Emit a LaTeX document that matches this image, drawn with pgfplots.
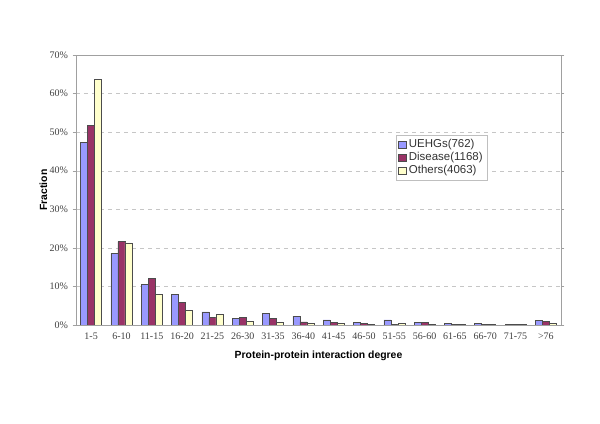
\documentclass[border=0pt]{standalone}
\usepackage{fontspec}
\setmainfont{Liberation Serif}
\setsansfont{Liberation Sans}
\usepackage{pgfplots}
\pgfplotsset{compat=1.18}
\definecolor{uehg}{RGB}{153,153,255}
\definecolor{disease}{RGB}{153,51,102}
\definecolor{others}{RGB}{255,255,204}
\definecolor{frame}{RGB}{160,160,160}

\begin{document}
\begin{tikzpicture}[x=0.75pt,y=0.75pt]
\useasboundingbox (-76,-99) rectangle (524,325);
\begin{axis}[
  at={(0,0)}, anchor=south west,
  scale only axis, width=363.75pt, height=202.5pt,
  ybar=0pt, bar width=5.25pt,
  xmin=-0.5, xmax=15.5, ymin=0, ymax=70,
  xtick=data,
  xticklabels={1-5,6-10,11-15,16-20,21-25,26-30,31-35,36-40,41-45,46-50,51-55,56-60,61-65,66-70,71-75,>76},
  ytick={0,10,...,70},
  yticklabel={\pgfmathprintnumber{\tick}\%},
  /pgf/number format/assume math mode=true,
  tick label style={font=\fontsize{7.5}{8}\selectfont, text=black!75},
  xtick style={draw=none},
  ytick style={draw=frame},
  tick align=outside, major tick length=2.5pt,
  axis line style={draw=frame},
  ymajorgrids, grid style={dashed, gray!45, line width=0.3pt},
  xlabel={\sffamily\bfseries Protein-protein interaction degree},
  ylabel={\sffamily\bfseries Fraction},
  label style={font=\fontsize{7.8}{9}\selectfont},
  xlabel style={yshift=-1.5pt},
  ylabel style={yshift=-5pt},
  legend style={at={(0.66,0.705)}, anchor=north west, draw=gray!50,
    font=\sffamily\fontsize{8.6}{10}\selectfont, text=black!80,
    inner sep=1.5pt, row sep=-2pt},
  legend image code/.code={\draw[#1] (0pt,-2.8pt) rectangle (5.5pt,2.8pt);},
  legend cell align=left,
]
\addplot[draw=black!70, fill=uehg, line width=0.4pt] coordinates {
  (0,47.3)(1,18.6)(2,10.5)(3,7.9)(4,3.4)(5,1.8)(6,3.0)(7,2.3)
  (8,1.3)(9,0.7)(10,1.3)(11,0.7)(12,0.4)(13,0.4)(14,0.1)(15,1.2)};
\addlegendentry{UEHGs(762)}
\addplot[draw=black!70, fill=disease, line width=0.4pt] coordinates {
  (0,51.7)(1,21.6)(2,12.0)(3,5.9)(4,1.9)(5,1.9)(6,1.7)(7,0.8)
  (8,0.7)(9,0.5)(10,0.1)(11,0.6)(12,0.1)(13,0.1)(14,0.1)(15,1.0)};
\addlegendentry{Disease(1168)}
\addplot[draw=black!70, fill=others, line width=0.4pt] coordinates {
  (0,63.7)(1,21.3)(2,7.9)(3,3.8)(4,2.7)(5,1.0)(6,0.6)(7,0.4)
  (8,0.5)(9,0.2)(10,0.4)(11,0.2)(12,0.1)(13,0.1)(14,0.1)(15,0.4)};
\addlegendentry{Others(4063)}
\end{axis}
\end{tikzpicture}
\end{document}
